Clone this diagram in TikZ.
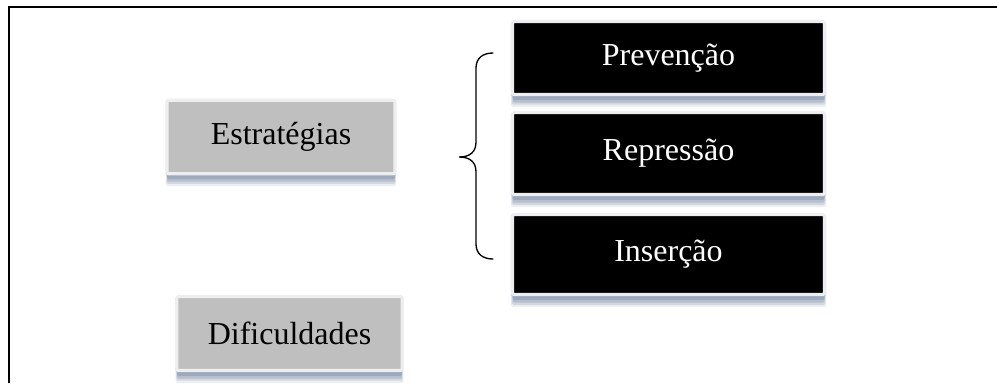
\documentclass[tikz,border=0pt]{standalone}
\usepackage{fontspec}
\setmainfont{Liberation Serif}
\usepackage{tikz}
\usetikzlibrary{calc,positioning,shadows}
\definecolor{boxgray}{RGB}{191,191,191}
\definecolor{shadowblue}{RGB}{100,120,150}
\definecolor{rimwhite}{RGB}{238,238,240}
\tikzset{
  sbox/.style={rectangle, draw=rimwhite, line width=2.4pt, rounded corners=1pt,
               inner sep=0pt, font=\fontsize{24}{28}\selectfont,
               drop shadow={shadow xshift=0pt, shadow yshift=-9pt, shadow scale=1.01, fill=shadowblue, opacity=0.12},
               drop shadow={shadow xshift=0pt, shadow yshift=-7.5pt, shadow scale=1.005, fill=shadowblue, opacity=0.2},
               drop shadow={shadow xshift=0pt, shadow yshift=-6pt, fill=shadowblue, opacity=0.25},
               drop shadow={shadow xshift=0pt, shadow yshift=-4pt, fill=shadowblue, opacity=0.3},
               drop shadow={shadow xshift=0pt, shadow yshift=-1pt, shadow scale=1.012, fill=shadowblue, opacity=0.12}},
  gbox/.style={sbox, fill=boxgray, text=black},
  kbox/.style={sbox, fill=black, text=white, minimum width=234pt},
  brace/.style={line width=1pt, black, line cap=round},
  frame/.style={line width=1.6pt, black},
}
\begin{document}
\begin{tikzpicture}[x=0.75pt, y=-0.75pt]
\useasboundingbox (0,0) rectangle (997,383);
\draw[frame] (9,383) -- (9,7) -- (997,7);
\node[gbox, minimum width=171pt, minimum height=55pt] (estr) at (281,137) {Estratégias};
\node[gbox, minimum width=169pt, minimum height=55.5pt] (dific) at (289.5,333.5) {Dificuldades};
\node[kbox, minimum height=54.75pt] (prev) at (668.5,58) {Prevenção};
\node[kbox, minimum height=61.5pt] (repr) at (668.5,153.5) {Repressão};
\node[kbox, minimum height=60pt] (inser) at (668.5,254.5) {Inserção};
% chave
\draw[brace] (493,53) .. controls (483,53) and (476,58) .. (476,68) -- (476,142)
  .. controls (476,152) and (470,157) .. (459,157)
  .. controls (470,157) and (476,162) .. (476,172) -- (476,244)
  .. controls (476,254) and (483,259) .. (493,259);
\end{tikzpicture}
\end{document}
